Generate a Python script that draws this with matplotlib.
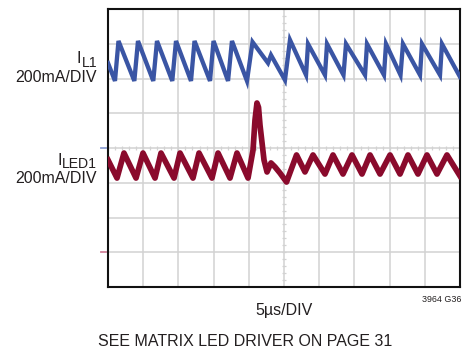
import matplotlib.pyplot as plt
import numpy as np
from matplotlib import font_manager

# scope settings: 5us/DIV, 200mA/DIV, 10 x 8 divisions
us_per_div = 5
ma_per_div = 200
il1_zero_div = 4
iled_zero_div = 1

# I_L1 inductor current (us, mA)
il1_t = [0, 0.99, 1.49, 3.74, 4.26, 6.43, 6.96, 9.13, 9.66, 11.79, 12.29, 14.49, 14.99,
         17.05, 17.61, 19.74, 20.53, 22.73, 23.15, 25.14, 25.85, 28.13, 28.41, 30.82, 31.11,
         33.45, 33.81, 36.51, 36.79, 39.20, 39.49, 41.55, 41.90, 44.32, 44.60, 47.16, 47.44, 50]
il1_ma = [489, 386, 616, 386, 616, 386, 616, 386, 616, 386, 616, 386, 616,
          386, 616, 386, 610, 489, 535, 391, 622, 420, 599, 420, 599,
          420, 599, 420, 599, 420, 599, 420, 599, 420, 599, 420, 599, 409]

# I_LED1 current (us, mA)
iled_t = [0, 1.28, 2.27, 3.98, 4.97, 6.68, 7.53, 9.38, 10.23, 12.07, 12.93, 14.77, 15.63,
          17.33, 18.32, 19.89, 20.60, 20.88, 21.16, 21.38, 21.59, 22.16, 22.59, 23.15, 23.72,
          24.43, 25.36, 26.78, 27.98, 29.12, 30.82, 31.96, 33.38, 34.66, 36.08, 37.22,
          38.64, 40.06, 41.48, 42.61, 44.03, 45.31, 46.73, 48.15, 50]
iled_ma = [531, 427, 571, 427, 571, 427, 571, 427, 571, 427, 571, 427, 571,
           427, 571, 427, 588, 761, 859, 834, 732, 531, 462, 514, 491,
           456, 404, 560, 462, 560, 450, 560, 450, 560, 450, 560,
           450, 560, 450, 560, 450, 560, 450, 560, 439]

names = {f.name for f in font_manager.fontManager.ttflist}
if 'Liberation Sans Narrow' in names:
    font = ['Liberation Sans Narrow', 'DejaVu Sans']
    big, small = 13.6, 7.6
else:
    font = ['Liberation Sans', 'DejaVu Sans']
    big, small = 11.5, 6.4
plt.rcParams['font.family'] = font

W, H = 473, 349
fig = plt.figure(figsize=(W / 100, H / 100), dpi=100)
ax = fig.add_axes([108 / W, 1 - 287 / H, 352 / W, 278 / H])

grid_c = '#d2d2d2'
ax.set_xlim(0, 10)
ax.set_ylim(0, 8)
ax.set_xticks(range(11))
ax.set_yticks(range(9))
ax.tick_params(length=0, labelbottom=False, labelleft=False)
ax.grid(True, color=grid_c, lw=1.1)
ax.set_axisbelow(True)
for s in ax.spines.values():
    s.set_linewidth(1.5)
    s.set_color('#111111')

# minor ticks on the centre crosshair
mx = np.arange(0, 10.01, 0.2)
my = np.arange(0, 8.01, 0.2)
ax.plot(mx, np.full_like(mx, 4), ls='none', marker='|', ms=3.5, mew=0.9, color=grid_c, zorder=1)
ax.plot(np.full_like(my, 5), my, ls='none', marker='_', ms=3.5, mew=0.9, color=grid_c, zorder=1)

x1 = np.array(il1_t) / us_per_div
y1 = np.array(il1_ma) / ma_per_div + il1_zero_div
x2 = np.array(iled_t) / us_per_div
y2 = np.array(iled_ma) / ma_per_div + iled_zero_div
ax.plot(x1, y1, color='#3a55a4', lw=3.1, solid_joinstyle='miter', zorder=3)
ax.plot(x2, y2, color='#8a0a2c', lw=4.1, solid_joinstyle='round', zorder=3)

# channel zero markers left of the graticule
tr = ax.get_yaxis_transform()
ax.plot([-0.02, -0.006], [il1_zero_div] * 2, color='#8d9fd2', lw=1.3, transform=tr, clip_on=False)
ax.plot([-0.02, -0.006], [iled_zero_div] * 2, color='#cf8098', lw=1.3, transform=tr, clip_on=False)

tc = '#231f20'
def ftext(x, y, s, size=big, ha='right'):
    fig.text(x / W, 1 - y / H, s, fontsize=size, ha=ha, va='baseline', color=tc)

ftext(81, 63.3, 'I')
ftext(97, 66.7, 'L1', size=big * 0.88)
ftext(97, 81.7, '200mA/DIV')
ftext(62, 165, 'I')
ftext(97, 168, 'LED1', size=big * 0.88)
ftext(97, 183.3, '200mA/DIV')
ftext(284, 315, '5µs/DIV', ha='center')
ftext(461, 301.5, '3964 G36', size=small)
ftext(245, 346, 'SEE MATRIX LED DRIVER ON PAGE 31', ha='center')

fig.savefig('out.png', dpi=100)
